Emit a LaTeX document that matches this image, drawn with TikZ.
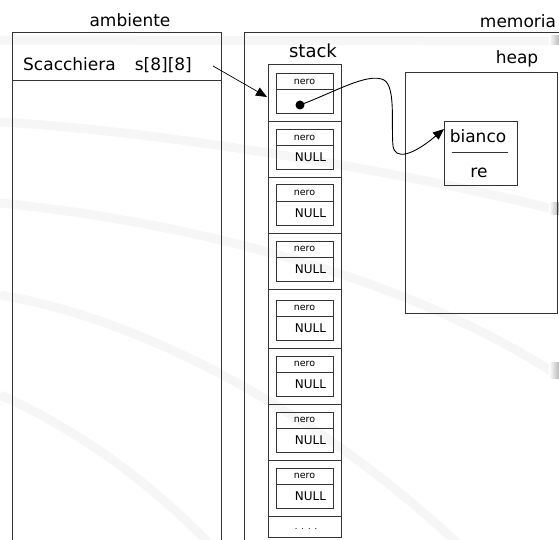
\documentclass[tikz,border=0pt]{standalone}
\usepackage{fontspec}
\setmainfont{DejaVu Sans}
\usetikzlibrary{arrows.meta}
\definecolor{arccol}{HTML}{F6F6F6}
\definecolor{ln}{HTML}{333333}
\begin{document}
\begin{tikzpicture}[x=1pt,y=-1pt,
  box/.style={draw=ln, line width=1pt},
  lbl/.style={font=\fontsize{17}{20}\selectfont, inner sep=0pt, anchor=base},
  nerot/.style={font=\fontsize{9.5}{11}\selectfont, inner sep=0pt},
  nullt/.style={font=\fontsize{12}{14}\selectfont, inner sep=0pt},
  bgarc/.style={draw=arccol, line width=9pt},
  ptr/.style={line width=0.9pt, draw=black, -{Triangle[length=11pt,width=9pt]}}]
\useasboundingbox (0,0) rectangle (559,540);
\clip (0,0) rectangle (559,540);
% faint background watermark arcs
\draw[bgarc] (-5,40) -- (565,41);
\draw[bgarc] (0,122) .. controls (150,130) and (400,170) .. (565,212);
\draw[bgarc] (0,203) .. controls (170,220) and (400,270) .. (565,380);
\draw[bgarc] (0,295) .. controls (150,320) and (330,420) .. (470,555);
\draw[bgarc] (0,395) .. controls (80,430) and (160,490) .. (215,550);
\shade[left color=white, right color=gray!55] (549,36) rectangle (559,45);
\shade[left color=white, right color=gray!55] (549,202) rectangle (559,214);
\shade[left color=white, right color=gray!55] (549,362) rectangle (559,378);
% ambiente
\node[lbl] (amb) at (130,27) {ambiente};
\draw[box] (12.3,33) rectangle (221,560);
\draw[box] (12.3,81) -- (221,81);
\node[lbl, anchor=base west] (sc) at (23,71) {Scacchiera\hspace{19pt}s[8][8]};
% memoria
\node[lbl] (mem) at (518,28) {memoria};
\draw[box] (244.5,32.5) rectangle (620,560);
% stack
\node[lbl, font=\fontsize{18}{20}\selectfont] (stk) at (313,58) {stack};
\draw[box] (268,65) rectangle (341.5,537);
\foreach \s in {121.7,177.3,233.3,289.3,348.3,404.3,460,516}
  \draw[box] (268,\s) -- (341.5,\s);
\foreach \t [count=\i] in {74,129.5,185,241,300,356,412,468} {
  \draw[box] (276,\t) rectangle (333,{\t+40});
  \draw[box] (276,{\t+16}) -- (333,{\t+16});
  \node[nerot] (nero\i) at (304.5,{\t+8}) {nero};
}
\foreach \t [count=\i from 2] in {129.5,185,241,300,356,412,468}
  \node[nullt] (null\i) at (310.5,{\t+28}) {NULL};
\node[font=\fontsize{8}{8}\selectfont, inner sep=0pt] (dots) at (306,529) {.\,\,\,.\,\,\,.\,\,\,.};
% heap
\node[lbl] (hp) at (517,64) {heap};
\draw[box] (405,73) rectangle (557,313);
\node[box, minimum width=73pt, minimum height=64pt, inner sep=0pt, anchor=north west] (obj) at (444,121) {};
\draw[line width=1pt, draw=ln] (451.7,153) -- (508.3,153);
\node[lbl] (bianco) at (478,143) {bianco};
\node[lbl] (re) at (479,178) {re};
% pointers
\coordinate (sq) at (213,66);
\coordinate (c1) at (267,97);
\draw[ptr, line width=0.7pt] (sq) -- (c1);
\node[circle, fill=black, inner sep=0pt, minimum size=9pt] (dot) at (300,105) {};
\coordinate (tip) at (444,129);
\draw[ptr] (dot.center) .. controls (335,92) and (368,72) .. (384,80)
  .. controls (396,87) and (391,125) .. (393,146)
  .. controls (395,160) and (412,156) .. (tip);
\end{tikzpicture}
\end{document}
